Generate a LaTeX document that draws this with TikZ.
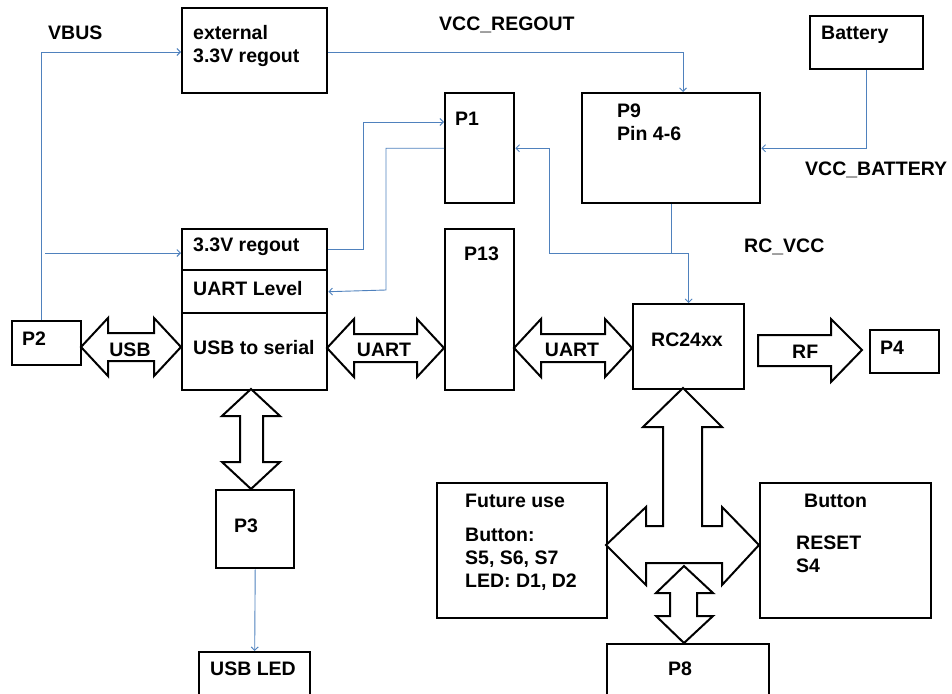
\documentclass[tikz,border=0pt]{standalone}
\usepackage{fontspec}
\setmainfont{Liberation Sans}
\usetikzlibrary{arrows.meta}
\definecolor{wireblue}{RGB}{79,129,189}
\begin{document}
\begin{tikzpicture}[x=1pt,y=-1pt,
  box/.style={draw=black,line width=2.4pt,inner sep=0pt,anchor=north west},
  lbl/.style={anchor=base west,inner sep=0pt,font=\fontsize{19.5}{23}\selectfont\bfseries},
  wire/.style={draw=wireblue,line width=0.9pt,-{Straight Barb[length=3.5pt,width=7pt]}},
  plainwire/.style={draw=wireblue,line width=0.9pt},
  fat/.style={draw=black,line width=2pt,fill=white,line join=miter}]
\useasboundingbox (0,0) rectangle (952,693);
% boxes
\node[box,minimum width=145pt,minimum height=85pt] (ext) at (181,7) {};
\node[box,minimum width=113pt,minimum height=53pt] (bat) at (809,15) {};
\node[box,minimum width=178pt,minimum height=110pt] (p9) at (581,92) {};
\node[box,minimum width=69pt,minimum height=110pt] (p1) at (444,92) {};
\node[box,minimum width=69pt,minimum height=161pt] (p13) at (444,228) {};
\node[box,minimum width=145pt,minimum height=41pt] (reg) at (181,228) {};
\node[box,minimum width=145pt,minimum height=43pt] (lvl) at (181,269) {};
\node[box,minimum width=145pt,minimum height=77pt] (u2s) at (181,312) {};
\node[box,minimum width=69pt,minimum height=44pt] (p2) at (11,320) {};
\node[box,minimum width=111pt,minimum height=85pt] (rc) at (632,303) {};
\node[box,minimum width=69pt,minimum height=43pt] (p4) at (869,329) {};
\node[box,minimum width=170pt,minimum height=135pt] (fut) at (436,482) {};
\node[box,minimum width=171pt,minimum height=135pt] (btn) at (759,482) {};
\node[box,minimum width=162pt,minimum height=56pt] (p8) at (606,643) {};
\node[box,minimum width=78pt,minimum height=78pt] (p3) at (215,489) {};
\node[box,minimum width=111pt,minimum height=48pt] (led) at (198,651) {};
% fat arrows
\draw[fat] (81,347) -- (108,318) -- (108,333) -- (154,333) -- (154,318) -- (181,347)
  -- (154,376) -- (154,361) -- (108,361) -- (108,376) -- cycle;
\draw[fat] (327,348) -- (354,319) -- (354,334) -- (417,334) -- (417,319) -- (444,348)
  -- (417,377) -- (417,362) -- (354,362) -- (354,377) -- cycle;
\draw[fat] (514,348) -- (541,319) -- (541,334) -- (605,334) -- (605,319) -- (632,348)
  -- (605,377) -- (605,362) -- (541,362) -- (541,377) -- cycle;
\draw[fat] (758,335) -- (831,335) -- (831,319) -- (862,350) -- (831,382) -- (831,366)
  -- (758,366) -- cycle;
\draw[fat] (251,389) -- (280,416) -- (263,416) -- (263,462) -- (280,462) -- (251,489)
  -- (222,462) -- (240,462) -- (240,416) -- (222,416) -- cycle;
\draw[fat] (683,388) -- (722,427) -- (702,427) -- (702,526) -- (722,526) -- (722,507)
  -- (759,545) -- (722,585) -- (722,563) -- (646,563) -- (646,585) -- (606,545)
  -- (646,507) -- (646,526) -- (663,526) -- (663,427) -- (643,427) -- cycle;
\draw[fat] (684,566) -- (713,593) -- (697,593) -- (697,616) -- (713,616) -- (684,643)
  -- (656,616) -- (670,616) -- (670,593) -- (656,593) -- cycle;
% wires
\coordinate (vb2) at (45,253);
\coordinate (j) at (549,253);
\coordinate (b1) at (363,122);
\coordinate (b2) at (386,290);
\draw[wire] ([xshift=30pt]p2.north west) |- (ext.west |- 0,52);
\draw[wire] (vb2) -- (reg.west |- vb2);
\draw[wire] (ext.east |- 0,52) -| (p9.north -| 683,0);
\draw[wire] (bat.south) |- (p9.east);
\draw[plainwire] (p9.south) -- (p9.south |- j);
\draw[wire] (j) -| (rc.north);
\draw[wire] (j) |- (p1.east);
\draw[wire] (reg.east) -| (b1) -- (p1.west |- b1);
\draw[wire] (p1.west) -| (b2) -- (lvl.east);
\draw[wire] (p3.south) -- (led.north);
% labels
\node[lbl] (tvbus) at (48,40) {VBUS};
\node[lbl] (tvreg) at (439,31) {VCC\_REGOUT};
\node[lbl] (tvbat) at (805,175) {VCC\_BATTERY};
\node[lbl] (trcv) at (744,252) {RC\_VCC};
\node[lbl] (text1) at (193,40) {external};
\node[lbl] (text2) at (193,63) {3.3V regout};
\node[lbl] (tbat) at (821,40) {Battery};
\node[lbl] (tp9a) at (617,117) {P9};
\node[lbl] (tp9b) at (617,140) {Pin 4-6};
\node[lbl] (tp1) at (455,125) {P1};
\node[lbl] (tp13) at (464,260) {P13};
\node[lbl] (treg) at (193,251) {3.3V regout};
\node[lbl] (tlvl) at (193,295) {UART Level};
\node[lbl] (tu2s) at (193,354) {USB to serial};
\node[lbl] (tp2) at (22,345) {P2};
\node[lbl,anchor=base] (tusb) at (130,356) {USB};
\node[lbl,anchor=base] (tuart1) at (384,356) {UART};
\node[lbl,anchor=base] (tuart2) at (572,356) {UART};
\node[lbl,anchor=base] (trc) at (687,346) {RC24xx};
\node[lbl] (trf) at (792,358) {RF};
\node[lbl] (tp4) at (880,354) {P4};
\node[lbl] (tfut1) at (465,507) {Future use};
\node[lbl] (tfut2) at (465,541) {Button:};
\node[lbl] (tfut3) at (465,564) {S5, S6, S7};
\node[lbl] (tfut4) at (465,587) {LED: D1, D2};
\node[lbl] (tbtn1) at (804,507) {Button};
\node[lbl] (tbtn2) at (796,549) {RESET};
\node[lbl] (tbtn3) at (796,572) {S4};
\node[lbl,anchor=base] (tp8) at (680,675) {P8};
\node[lbl] (tp3) at (234,532) {P3};
\node[lbl,anchor=base] (tled) at (253,675) {USB LED};
\end{tikzpicture}
\end{document}
